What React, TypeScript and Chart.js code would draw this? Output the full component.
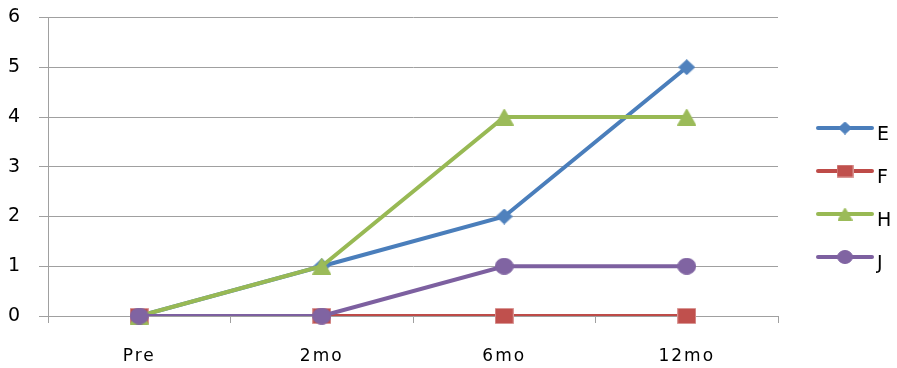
import React, { useEffect, useRef } from "react";
import { Chart, registerables } from "chart.js";

Chart.register(...registerables);

// Categories and series values
const categories = ["Pre", "2mo", "6mo", "12mo"];
const seriesNames = ["E", "F", "H", "J"];
const valuesE = [0, 1, 2, 5];
const valuesF = [0, 0, 0, 0];
const valuesH = [0, 1, 4, 4];
const valuesJ = [0, 0, 1, 1];
const yMin = 0;
const yMax = 6;
const yStep = 1;

const FONT = "'DejaVu Sans', Verdana, sans-serif";

type Shape = "diamond" | "square" | "triangle" | "circle";

// Builds a small canvas used as a point marker (allows non-square shapes)
function makeMarker(shape: Shape, fill: string, stroke: string, w: number, h: number): HTMLCanvasElement {
  const c = document.createElement("canvas");
  c.width = w;
  c.height = h;
  const ctx = c.getContext("2d")!;
  ctx.fillStyle = fill;
  ctx.strokeStyle = stroke;
  ctx.lineWidth = 1;
  ctx.beginPath();
  const p = 0.5;
  if (shape === "diamond") {
    ctx.moveTo(w / 2, p);
    ctx.lineTo(w - p, h / 2);
    ctx.lineTo(w / 2, h - p);
    ctx.lineTo(p, h / 2);
    ctx.closePath();
  } else if (shape === "square") {
    ctx.rect(p, p, w - 2 * p, h - 2 * p);
  } else if (shape === "triangle") {
    ctx.moveTo(w / 2, p);
    ctx.lineTo(w - p, h - p);
    ctx.lineTo(p, h - p);
    ctx.closePath();
  } else {
    ctx.ellipse(w / 2, h / 2, w / 2 - p, h / 2 - p, 0, 0, Math.PI * 2);
  }
  ctx.fill();
  ctx.stroke();
  return c;
}

const lineColors = ["#4A7EBB", "#BE4B48", "#98B954", "#7D60A0"];
const markerFills = ["#4F81BD", "#C0504D", "#9BBB59", "#8064A2"];
const markerStrokes = ["#4F81BD", "#D99694", "#9BBB59", "#8064A2"];
const shapes: Shape[] = ["diamond", "square", "triangle", "circle"];
const markerSizes: [number, number][] = [[17, 16], [19, 16], [19, 17], [19, 17]];
const legendSizes: [number, number][] = [[14, 13], [17, 13], [15, 13], [16, 14]];

export default function App() {
  const ref = useRef<HTMLCanvasElement>(null);

  useEffect(() => {
    if (!ref.current) return;
    const allValues = [valuesE, valuesF, valuesH, valuesJ];
    const markers = shapes.map((s, i) => makeMarker(s, markerFills[i], markerStrokes[i], markerSizes[i][0], markerSizes[i][1]));
    const legendMarkers = shapes.map((s, i) => makeMarker(s, markerFills[i], markerStrokes[i], legendSizes[i][0], legendSizes[i][1]));

    // Each series: a line (clipped at the plot bottom) plus its unclipped markers
    const datasets: any[] = [];
    allValues.forEach((vals, i) => {
      datasets.push({
        label: seriesNames[i],
        data: vals,
        borderColor: lineColors[i],
        backgroundColor: lineColors[i],
        borderWidth: 4,
        pointRadius: 0,
        tension: 0,
        clip: { left: false, top: false, right: false, bottom: 0 },
      });
      datasets.push({
        label: seriesNames[i] + " markers",
        data: vals,
        showLine: false,
        pointStyle: markers[i],
        pointRadius: 8,
        clip: false,
      });
    });
    datasets.forEach((d, idx) => (d.order = datasets.length - idx));

    // Widen the category label lettering
    const spacingPlugin = {
      id: "labelSpacing",
      beforeDraw(chart: any) {
        chart.ctx.letterSpacing = "2px";
      },
      afterDatasetsDraw(chart: any) {
        chart.ctx.letterSpacing = "0px";
      },
    };

    const legendPlugin = {
      id: "seriesLegend",
      afterDraw(chart: any) {
        const ctx = chart.ctx;
        const x0 = chart.chartArea.right + 40;
        const x1 = x0 + 54;
        ctx.save();
        ctx.letterSpacing = "0px";
        seriesNames.forEach((name, i) => {
          const y = 128 + i * 43;
          ctx.strokeStyle = lineColors[i];
          ctx.lineWidth = 4;
          ctx.lineCap = "round";
          ctx.beginPath();
          ctx.moveTo(x0, y);
          ctx.lineTo(x1, y);
          ctx.stroke();
          const m = legendMarkers[i];
          ctx.drawImage(m, (x0 + x1) / 2 - m.width / 2, y - m.height / 2);
          ctx.fillStyle = "#000";
          ctx.font = `19px ${FONT}`;
          ctx.textBaseline = "alphabetic";
          ctx.textAlign = "left";
          ctx.fillText(name, x1 + 5, y + 12);
        });
        ctx.restore();
      },
    };

    const chart = new Chart(ref.current, {
      type: "line",
      data: { labels: categories, datasets },
      options: {
        responsive: false,
        animation: false,
        layout: { padding: { top: 17.5, right: 119, left: 0, bottom: 0 } },
        plugins: { legend: { display: false }, tooltip: { enabled: false } },
        scales: {
          x: {
            offset: true,
            afterFit: (s: any) => {
              s.height = 52;
              s.paddingLeft = 0;
              s.paddingRight = 0;
            },
            grid: {
              offset: true,
              drawOnChartArea: false,
              drawTicks: true,
              tickLength: 7,
              color: "#A0A0A0",
            },
            border: { color: "#A0A0A0" },
            ticks: { font: { family: FONT, size: 17 }, color: "#000", padding: 23, maxRotation: 0 },
          },
          y: {
            min: yMin,
            max: yMax,
            afterFit: (s: any) => {
              s.width = 48;
              s.paddingTop = 0;
              s.paddingBottom = 0;
            },
            grid: { color: "#A0A0A0", tickLength: 9, lineWidth: 1 },
            border: { color: "#A0A0A0" },
            ticks: { stepSize: yStep, font: { family: FONT, size: 19 }, color: "#000", padding: 17 },
          },
        },
      },
      plugins: [spacingPlugin, legendPlugin],
    });
    return () => chart.destroy();
  }, []);

  return (
    <div style={{ position: "absolute", left: 0, top: 0, width: 897, height: 368, background: "#fff" }}>
      <canvas ref={ref} width={897} height={368} style={{ display: "block" }} />
    </div>
  );
}
